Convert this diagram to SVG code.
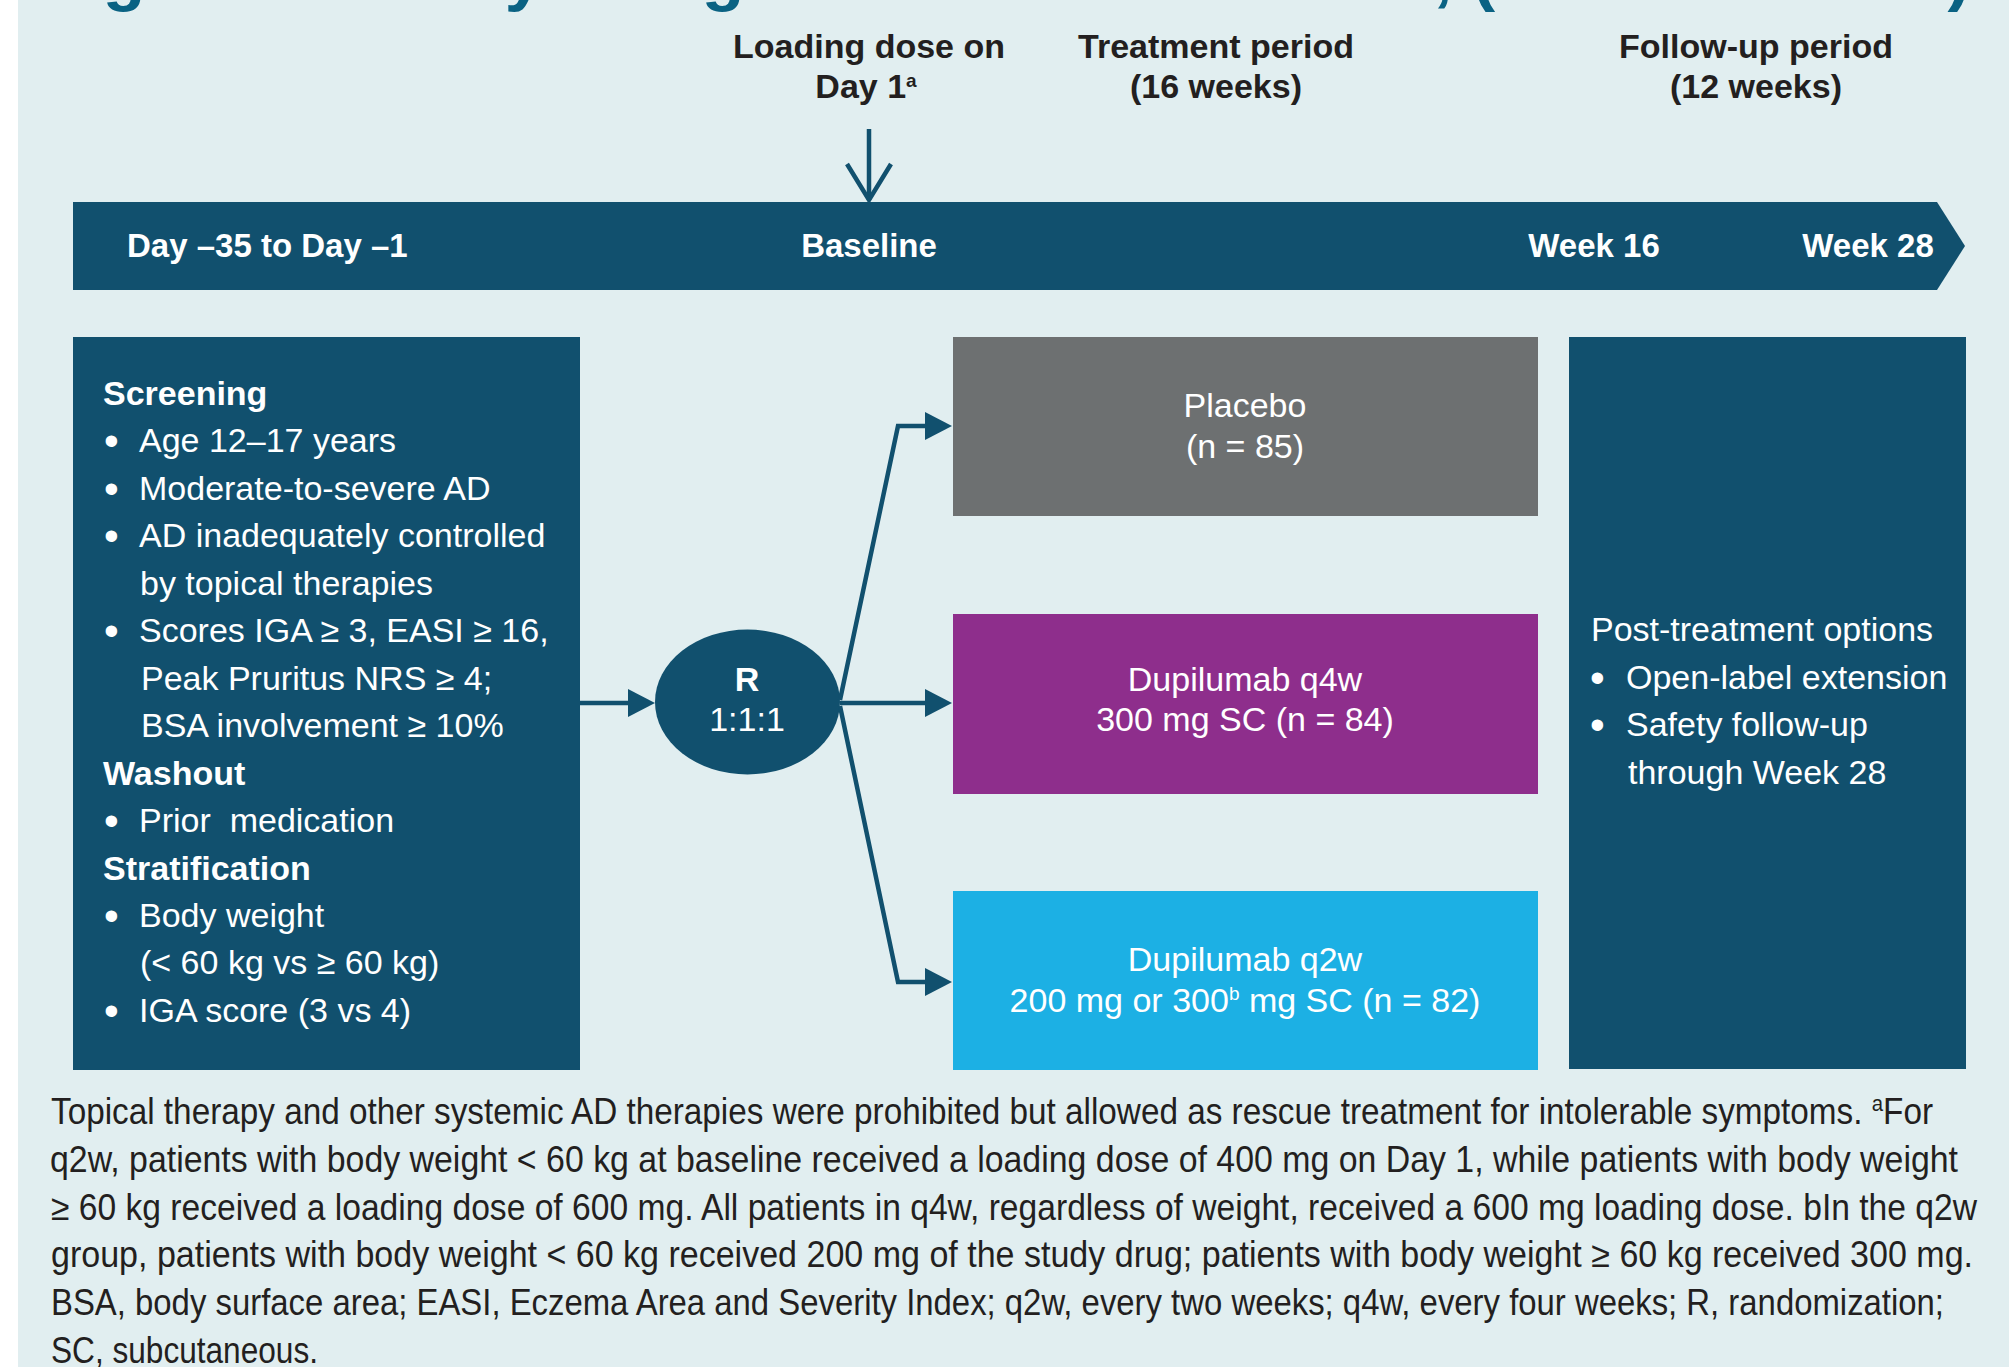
<svg xmlns="http://www.w3.org/2000/svg" width="2009" height="1367" viewBox="0 0 2009 1367">
<style>
.hd{font-family:"Liberation Sans",Arial,sans-serif;font-weight:bold;font-size:34px;fill:#231f20;text-anchor:middle}
.bar{font-family:"Liberation Sans",Arial,sans-serif;font-weight:bold;font-size:33px;fill:#ffffff}
.tx{font-family:"Liberation Sans",Arial,sans-serif;font-size:34px;fill:#ffffff;white-space:pre}
.bu{font-family:"Liberation Sans",Arial,sans-serif;font-size:42px;fill:#ffffff}
.tb{font-family:"Liberation Sans",Arial,sans-serif;font-size:34px;font-weight:bold;fill:#ffffff}
.mid{text-anchor:middle}
.fn{font-family:"Liberation Sans",Arial,sans-serif;font-size:36px;fill:#231f20}
.navy{fill:#11506e}
.conn{fill:none;stroke:#11506e;stroke-width:4.5;stroke-linejoin:miter}
</style>
<defs>
<marker id="ah" markerUnits="userSpaceOnUse" markerWidth="28" markerHeight="30" viewBox="0 0 28 30" refX="15" refY="15" orient="auto">
<path d="M0,1 L27,15 L0,29 Z" fill="#11506e"/>
</marker>
</defs>
<rect x="0" y="0" width="2009" height="1367" fill="#ffffff"/>
<rect x="18" y="0" width="1991" height="1367" fill="#e1eef0"/>
<text x="41" y="-2" font-family="'Liberation Sans',Arial,sans-serif" font-weight="bold" font-size="66" fill="#0a6283" textLength="1949" lengthAdjust="spacingAndGlyphs">Figure 4. Study design LIBERTY AD ADOL, (NCT03054428).</text>
<g id="headers">
<text class="hd" x="869" y="58">Loading dose on</text>
<text class="hd" x="866" y="98">Day 1<tspan font-size="19" baseline-shift="60%">a</tspan></text>
<text class="hd" x="1216" y="58">Treatment period</text>
<text class="hd" x="1216" y="98">(16 weeks)</text>
<text class="hd" x="1756" y="58">Follow-up period</text>
<text class="hd" x="1756" y="98">(12 weeks)</text>
</g>
<g id="timeline">
<polygon class="navy" points="73,202 1937,202 1965,246 1937,290 73,290"/>
<text class="bar" x="127" y="257">Day –35 to Day –1</text>
<text class="bar mid" x="869" y="257">Baseline</text>
<text class="bar mid" x="1594" y="257">Week 16</text>
<text class="bar mid" x="1868" y="257">Week 28</text>
</g>
<g id="screening">
<rect class="navy" x="73" y="337" width="507" height="733"/>
<text class="tb" x="103" y="405">Screening</text>
<text class="bu" x="104" y="455">•</text><text class="tx" x="139" y="452.4">Age 12–17 years</text>
<text class="bu" x="104" y="502.5">•</text><text class="tx" x="139" y="499.9">Moderate-to-severe AD</text>
<text class="bu" x="104" y="550">•</text><text class="tx" x="139" y="547.3">AD inadequately controlled</text>
<text class="tx" x="140" y="594.8">by topical therapies</text>
<text class="bu" x="104" y="645">•</text><text class="tx" x="139" y="642.2">Scores IGA ≥ 3, EASI ≥ 16,</text>
<text class="tx" x="141" y="689.7">Peak Pruritus NRS ≥ 4;</text>
<text class="tx" x="141" y="737.1">BSA involvement ≥ 10%</text>
<text class="tb" x="103" y="784.6">Washout</text>
<text class="bu" x="104" y="834.5">•</text><text class="tx" x="139" y="832">Prior  medication</text>
<text class="tb" x="103" y="879.5">Stratification</text>
<text class="bu" x="104" y="929.5">•</text><text class="tx" x="139" y="926.9">Body weight</text>
<text class="tx" x="140" y="974.4">(&lt; 60 kg vs ≥ 60 kg)</text>
<text class="bu" x="104" y="1024.5">•</text><text class="tx" x="139" y="1021.8">IGA score (3 vs 4)</text>
</g>
<g id="randomization">
<ellipse class="navy" cx="747.5" cy="702" rx="92.5" ry="72.5"/>
<text class="tb mid" x="747" y="691" font-size="32">R</text>
<text class="tx mid" x="747" y="731">1:1:1</text>
</g>
<g id="placebo">
<rect x="953" y="337" width="585" height="179" fill="#6d7071"/>
<text class="tx mid" x="1245" y="417">Placebo</text>
<text class="tx mid" x="1245" y="458">(n = 85)</text>
</g>
<g id="q4w">
<rect x="953" y="614" width="585" height="180" fill="#8e2e8c"/>
<text class="tx mid" x="1245" y="691">Dupilumab q4w</text>
<text class="tx mid" x="1245" y="731">300 mg SC (n = 84)</text>
</g>
<g id="q2w">
<rect x="953" y="891" width="585" height="179" fill="#1cb0e4"/>
<text class="tx mid" x="1245" y="970.5">Dupilumab q2w</text>
<text class="tx mid" x="1245" y="1011.7">200 mg or 300<tspan font-size="19" baseline-shift="65%">b</tspan> mg SC (n = 82)</text>
</g>
<g id="posttreatment">
<rect class="navy" x="1569" y="337" width="397" height="732"/>
<text class="tx" x="1591" y="641">Post-treatment options</text>
<text class="bu" x="1590" y="691.5">•</text><text class="tx" x="1626" y="689">Open-label extension</text>
<text class="bu" x="1590" y="738.5">•</text><text class="tx" x="1626" y="736">Safety follow-up</text>
<text class="tx" x="1628" y="784">through Week 28</text>
</g>
<g id="connectors">
<path class="conn" d="M869,129 V200"/>
<path class="conn" d="M847,164 L869,200 L891,164" stroke-width="4"/>
<path class="conn" d="M580,703 H643" marker-end="url(#ah)"/>
<path class="conn" d="M840,700 L898,426 H940" marker-end="url(#ah)"/>
<path class="conn" d="M840,703 H940" marker-end="url(#ah)"/>
<path class="conn" d="M840,706 L898,982 H940" marker-end="url(#ah)"/>
</g>
<g id="footnote">
<text class="fn" x="51" y="1124" textLength="1882" lengthAdjust="spacingAndGlyphs">Topical therapy and other systemic AD therapies were prohibited but allowed as rescue treatment for intolerable symptoms. <tspan font-size="22" baseline-shift="60%">a</tspan>For</text>
<text class="fn" x="50" y="1171.8" textLength="1908" lengthAdjust="spacingAndGlyphs">q2w, patients with body weight &lt; 60 kg at baseline received a loading dose of 400 mg on Day 1, while patients with body weight</text>
<text class="fn" x="51" y="1219.5" textLength="1926" lengthAdjust="spacingAndGlyphs">≥ 60 kg received a loading dose of 600 mg. All patients in q4w, regardless of weight, received a 600 mg loading dose. bIn the q2w</text>
<text class="fn" x="51" y="1267.3" textLength="1922" lengthAdjust="spacingAndGlyphs">group, patients with body weight &lt; 60 kg received 200 mg of the study drug; patients with body weight ≥ 60 kg received 300 mg.</text>
<text class="fn" x="51" y="1315" textLength="1893" lengthAdjust="spacingAndGlyphs">BSA, body surface area; EASI, Eczema Area and Severity Index; q2w, every two weeks; q4w, every four weeks; R, randomization;</text>
<text class="fn" x="51" y="1362.8" textLength="267" lengthAdjust="spacingAndGlyphs">SC, subcutaneous.</text>
</g>
</svg>
